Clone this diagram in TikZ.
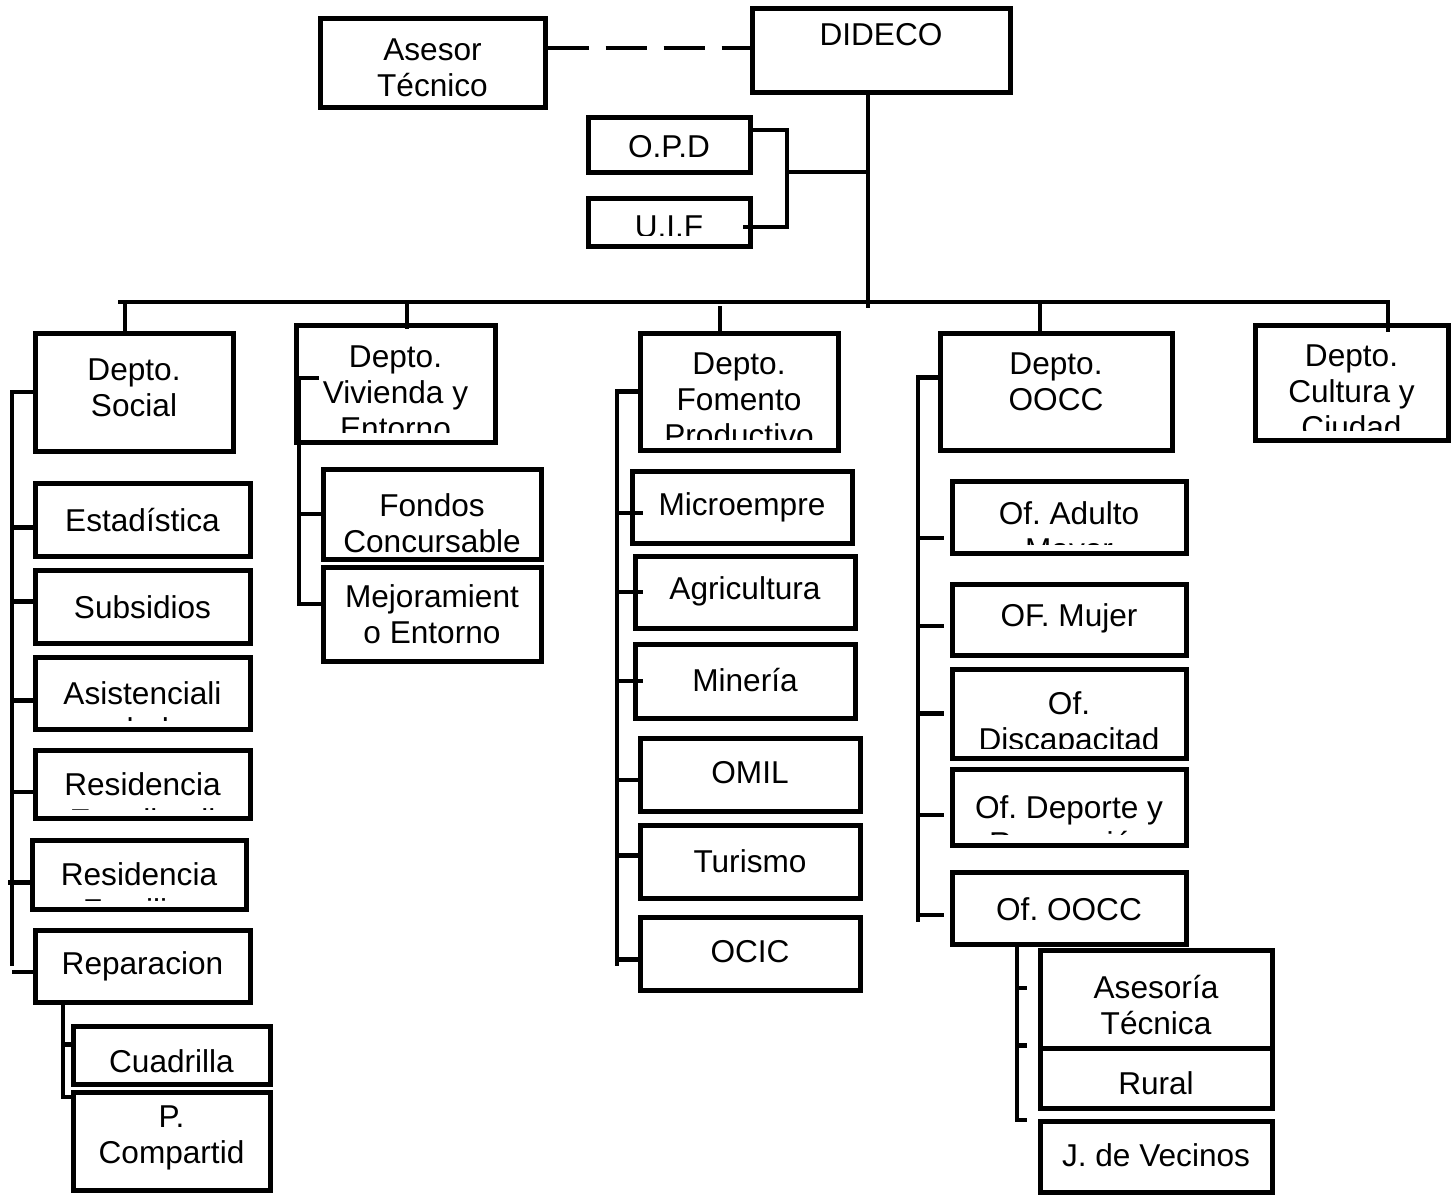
\documentclass[tikz,border=0pt]{standalone}
\usepackage{fontspec}
\setmainfont{Liberation Sans}
\newcommand\orgfont{\fontsize{15.8pt}{18pt}\selectfont\frenchspacing}
\tikzset{
	box/.style={draw=black, line width=2.5pt, inner sep=0pt},
	clipgap/.store in=\clipgap, clipgap=0pt,
	txt/.style 2 args={path picture={
		\clip ([yshift=\clipgap]path picture bounding box.south west) rectangle (path picture bounding box.north east);
		\node[draw=none, fill=none, path picture={}, minimum width=0pt, minimum height=0pt, inner sep=0pt, font=\orgfont, align=center] at ([yshift=-#1]path picture bounding box.north) {#2};}},
	link/.style={draw=black, line width=2.4pt},
	adv/.style={draw=black, line width=2.4pt, dash pattern=on 20.5pt off 8.5pt},
}
\begin{document}
\begin{tikzpicture}[x=0.5pt, y=-0.5pt]
	\useasboundingbox (0,0) rectangle (1454,1195);

	% top
	\node[box, minimum width=112.5pt, minimum height=44.5pt, txt={25pt}{Asesor\\Técnico}] (ases) at (432.5,62.5) {};
	\node[box, minimum width=129pt, minimum height=42pt, txt={13.5pt}{DIDECO}] (dideco) at (881,50) {};
	\node[box, minimum width=81pt, minimum height=27.5pt, txt={15pt}{O.P.D}] (opd) at (669,144.5) {};
	\node[box, minimum width=81pt, minimum height=24pt, clipgap=5.5pt, txt={14.5pt}{U.I.F}] (uif) at (669,222) {};

	% departments
	\node[box, minimum width=99pt, minimum height=59pt, txt={27.5pt}{Depto.\\Social}] (soc) at (134,392) {};
	\node[box, minimum width=99.5pt, minimum height=58.5pt, clipgap=5pt, txt={34pt}{Depto.\\Vivienda y\\Entorno}] (viv) at (395.5,383.5) {};
	\node[box, minimum width=99pt, minimum height=58.5pt, clipgap=5.5pt, txt={33.5pt}{Depto.\\Fomento\\Productivo}] (fom) at (739,391.5) {};
	\node[box, minimum width=116pt, minimum height=58.5pt, txt={24.5pt}{Depto.\\OOCC}] (oocc) at (1056,391.5) {};
	\node[box, minimum width=96.5pt, minimum height=57.5pt, clipgap=5pt, txt={33.5pt}{Depto.\\Cultura y\\Ciudad}] (cult) at (1351.5,382.5) {};

	% social
	\node[box, minimum width=107.5pt, minimum height=36.5pt, txt={18.5pt}{Estadística}] (est) at (142.5,519.5) {};
	\node[box, minimum width=107.5pt, minimum height=36.5pt, txt={18.5pt}{Subsidios}] (sub) at (142.5,606.5) {};
	\node[box, minimum width=107.5pt, minimum height=36.25pt, clipgap=4.75pt, txt={27pt}{Asistenciali\\dad}] (asis) at (142.5,693.25) {};
	\node[box, minimum width=107.5pt, minimum height=34pt, clipgap=4.5pt, txt={26pt}{Residencia\\Estudiantil}] (res1) at (142.5,784) {};
	\node[box, minimum width=107pt, minimum height=34.5pt, clipgap=4.5pt, txt={26pt}{Residencia\\Familiar}] (res2) at (139,874.5) {};
	\node[box, minimum width=107.5pt, minimum height=36pt, txt={18pt}{Reparacion}] (rep) at (142.5,966) {};
	\node[box, minimum width=98.5pt, minimum height=29pt, txt={17.5pt}{Cuadrilla}] (cuad) at (171.5,1055) {};
	\node[box, minimum width=98.5pt, minimum height=49pt, txt={22.75pt}{P.\\Compartid}] (pcomp) at (171.5,1141) {};

	% vivienda
	\node[box, minimum width=109pt, minimum height=45pt, txt={27pt}{Fondos\\Concursable}] (fondos) at (432,514) {};
	\node[box, minimum width=109pt, minimum height=47pt, txt={23.5pt}{Mejoramient\\o Entorno}] (mejor) at (432,614) {};

	% fomento
	\node[box, minimum width=110pt, minimum height=36pt, txt={18pt}{Microempre}] (micro) at (742,507) {};
	\node[box, minimum width=110pt, minimum height=36pt, txt={17.5pt}{Agricultura}] (agri) at (745,592) {};
	\node[box, minimum width=110pt, minimum height=37pt, txt={18pt}{Minería}] (min) at (745,681) {};
	\node[box, minimum width=110pt, minimum height=36.5pt, txt={17.5pt}{OMIL}] (omil) at (750,774.5) {};
	\node[box, minimum width=110pt, minimum height=36.5pt, txt={18pt}{Turismo}] (tur) at (750,861.5) {};
	\node[box, minimum width=110pt, minimum height=36.5pt, txt={17.5pt}{OCIC}] (ocic) at (750,953.5) {};

	% oocc
	\node[box, minimum width=117pt, minimum height=36pt, clipgap=4.5pt, txt={26.5pt}{Of. Adulto\\Mayor}] (adul) at (1069,517) {};
	\node[box, minimum width=117pt, minimum height=35.5pt, txt={17pt}{OF. Mujer}] (muj) at (1069,619.5) {};
	\node[box, minimum width=117pt, minimum height=44.5pt, clipgap=5pt, txt={27.5pt}{Of.\\Discapacitad}] (disc) at (1069,713.5) {};
	\node[box, minimum width=117pt, minimum height=38pt, clipgap=5.5pt, txt={28pt}{Of. Deporte y\\Recreación}] (dep) at (1069,807) {};
	\node[box, minimum width=117pt, minimum height=36pt, txt={18.5pt}{Of. OOCC}] (ofoocc) at (1069,908) {};
	\node[box, minimum width=116pt, minimum height=49pt, txt={27.25pt}{Asesoría\\Técnica}] (asesr) at (1156,999) {};
	\node[box, minimum width=116pt, minimum height=30pt, txt={17.5pt}{Rural}] (rural) at (1156,1078) {};
	\node[box, minimum width=116pt, minimum height=35.5pt, txt={17pt}{J. de Vecinos}] (jv) at (1156,1156.5) {};

	%Links
	% top
	\draw[adv] ([yshift=7.25pt]ases.east) -- ([yshift=7.25pt]ases.east -| dideco.west);
	\coordinate (hub) at (868,308);
	\coordinate (brk) at (787,172);
	\draw[link] (dideco.south -| hub) -- (hub);
	\draw[link] ([yshift=7.25pt]opd.east) -| (brk) |- ([xshift=-5pt,yshift=-2.5pt]uif.east);
	\draw[link] (brk) -- (brk -| hub);

	% bus and drops
	\coordinate (busL) at (118,302);
	\coordinate (busR) at (1388,302);
	\coordinate (dsoc) at (125,302);
	\coordinate (dviv) at (407,302);
	\coordinate (dfom) at (720,306);
	\coordinate (doocc) at (1040,302);
	\draw[link] (busL) -- (busR) -- ([yshift=-4.5pt]busR |- cult.north);
	\draw[link] (dsoc) -- (dsoc |- soc.north);
	\draw[link] (dviv) -- ([yshift=-3pt]dviv |- viv.north);
	\draw[link] (dfom) -- (dfom |- fom.north);
	\draw[link] (doocc) -- (doocc |- oocc.north);

	% social
	\coordinate (socx) at (12,966);
	\draw[link] ([xshift=1.5pt]soc.west) -- (soc.west -| socx) -- (socx);
	\draw[link] ([yshift=-4pt,xshift=1.5pt]est.west) -- ([yshift=-4pt]est.west -| socx);
	\draw[link] ([yshift=2.5pt,xshift=1.5pt]sub.west) -- ([yshift=2.5pt]sub.west -| socx);
	\draw[link] ([yshift=-3.5pt,xshift=1.5pt]asis.west) -- ([yshift=-3.5pt]asis.west -| socx);
	\draw[link] ([yshift=-4pt,xshift=1.5pt]res1.west) -- ([yshift=-4pt]res1.west -| socx);
	\draw[link] ([yshift=-4pt,xshift=1.5pt]res2.west) -- ([yshift=-4pt,xshift=-2pt]res2.west -| socx);
	\draw[link] ([yshift=-3pt,xshift=1.5pt]rep.west) -- ([yshift=-3pt]rep.west -| socx);

	\coordinate (repx) at (63,1097);
	\draw[link] (rep.south -| repx) -- (repx) -- ([xshift=1pt]pcomp.west |- repx);
	\draw[link] ([yshift=5.25pt,xshift=1pt]cuad.west) -- ([yshift=5.25pt]cuad.west -| repx);

	% vivienda
	\coordinate (vivx) at (299,604);
	\draw[link] ([xshift=12.5pt,yshift=2.75pt]viv.west) -| (vivx) -- ([yshift=5pt]mejor.west);
	\draw[link] (fondos.west) -- (fondos.west -| vivx);

	% fomento
	\coordinate (fomx) at (617,966);
	\draw[link] ([xshift=1pt]fom.west) -| (fomx);
	\draw[link] ([yshift=-3pt,xshift=6.5pt]micro.west) -- ([yshift=-3pt]micro.west -| fomx);
	\draw[link] ([xshift=5pt]agri.west) -- (agri.west -| fomx);
	\draw[link] ([xshift=5pt]min.west) -- (min.west -| fomx);
	\draw[link] ([yshift=-2.75pt,xshift=2.5pt]omil.west) -- ([yshift=-2.75pt]omil.west -| fomx);
	\draw[link] ([yshift=3pt,xshift=2.5pt]tur.west) -- ([yshift=3pt]tur.west -| fomx);
	\draw[link] ([yshift=-3pt,xshift=2.5pt]ocic.west) -- ([yshift=-3pt]ocic.west -| fomx);

	% oocc
	\coordinate (ooccx) at (918,922);
	\draw[link] ([yshift=7pt]oocc.west) -| (ooccx);
	\draw[link] ([yshift=-10.5pt,xshift=-3pt]adul.west) -- ([yshift=-10.5pt]adul.west -| ooccx);
	\draw[link] ([yshift=-3.25pt,xshift=-3pt]muj.west) -- ([yshift=-3.25pt]muj.west -| ooccx);
	\draw[link] ([xshift=-3pt]disc.west) -- (disc.west -| ooccx);
	\draw[link] ([yshift=-4pt,xshift=-3pt]dep.west) -- ([yshift=-4pt]dep.west -| ooccx);
	\draw[link] ([yshift=-3.5pt,xshift=-3pt]ofoocc.west) -- ([yshift=-3.5pt]ofoocc.west -| ooccx);

	\coordinate (ofx) at (1017,1120);
	\draw[link] (ofoocc.south -| ofx) -- (ofx) -- ([xshift=-5.5pt]jv.west |- ofx);
	\draw[link] ([yshift=5.5pt,xshift=-5.5pt]asesr.west) -- ([yshift=5.5pt]asesr.west -| ofx);
	\draw[link] ([xshift=-5.5pt]rural.north west) -- (rural.north west -| ofx);
\end{tikzpicture}
\end{document}
